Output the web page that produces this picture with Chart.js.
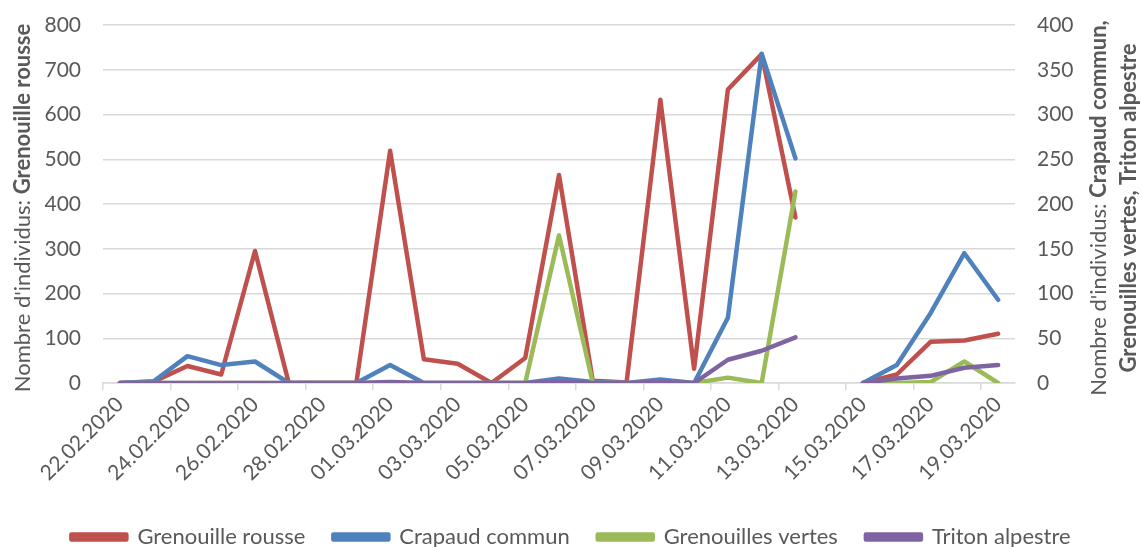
<!DOCTYPE html>
<html>
<head>
<meta charset="utf-8">
<script src="https://cdn.jsdelivr.net/npm/chart.js"></script>
<style>
  html, body { margin: 0; padding: 0; background: #fff; }
  #wrap { position: relative; width: 1142px; height: 547px; }
</style>
</head>
<body>
<div id="wrap"><canvas id="chart"></canvas></div>
<script>
// one category per day, 14.03 has no counts
const dates = [
  '22.02.2020', '23.02.2020', '24.02.2020', '25.02.2020', '26.02.2020', '27.02.2020',
  '28.02.2020', '29.02.2020', '01.03.2020', '02.03.2020', '03.03.2020', '04.03.2020',
  '05.03.2020', '06.03.2020', '07.03.2020', '08.03.2020', '09.03.2020', '10.03.2020',
  '11.03.2020', '12.03.2020', '13.03.2020', '14.03.2020', '15.03.2020', '16.03.2020',
  '17.03.2020', '18.03.2020', '19.03.2020'
];

// left axis
const grenouilleRousse = [0, 3, 38, 19, 295, 0, 0, 0, 519, 53, 43, 0, 56, 465, 5, 1, 633, 32, 656, 735, 370, null, 0, 19, 92, 95, 110];

// right axis
const crapaudCommun = [0, 2, 30, 20, 24, 0, 0, 0, 20, 0, 0, 0, 0, 5, 1, 0, 4, 0, 73, 368, 251, null, 0, 20, 78, 145, 93];
const grenouillesVertes = [0, 0, 0, 0, 0, 0, 0, 0, 0, 0, 0, 0, 0, 165, 0, 0, 0, 0, 6, 0, 214, null, 0, 0, 1, 24, 0];
const tritonAlpestre = [0, 0, 0, 0, 0, 0, 0, 0, 1, 0, 0, 0, 0, 1, 0, 0, 1, 0, 26, 36, 51, null, 0, 5, 8, 17, 20];

const leftTicks = { min: 0, max: 800, step: 100 };
const rightTicks = { min: 0, max: 400, step: 50 };

const textColor = '#595959';
const gridColor = '#d9d9d9';
const fontFamily = 'Lato, "Noto Sans", sans-serif';

function line(label, data, color, axis, order) {
  return {
    label: label,
    data: data,
    yAxisID: axis,
    borderColor: color,
    backgroundColor: color,
    borderWidth: 4.5,
    borderJoinStyle: 'round',
    borderCapStyle: 'round',
    pointRadius: 0,
    pointHoverRadius: 0,
    tension: 0,
    spanGaps: false,
    order: order
  };
}

// axis titles with a normal and a bold part
function drawRotated(ctx, parts, cx, cy, size) {
  ctx.save();
  ctx.translate(cx, cy);
  ctx.rotate(-Math.PI / 2);
  ctx.textBaseline = 'middle';
  ctx.textAlign = 'left';
  ctx.fillStyle = textColor;
  let total = 0;
  const widths = parts.map(p => {
    ctx.font = (p.bold ? 'bold ' : '') + size + 'px ' + fontFamily;
    const w = ctx.measureText(p.text).width;
    total += w;
    return w;
  });
  let x = -total / 2;
  parts.forEach((p, i) => {
    ctx.font = (p.bold ? 'bold ' : '') + size + 'px ' + fontFamily;
    ctx.fillText(p.text, x, 0);
    x += widths[i];
  });
  ctx.restore();
}

const axisTitles = {
  id: 'axisTitles',
  afterDraw(chart) {
    const ctx = chart.ctx;
    const area = chart.chartArea;
    const cy = (area.top + area.bottom) / 2 + 4;
    drawRotated(ctx, [
      { text: "Nombre d'individus: ", bold: false },
      { text: 'Grenouille rousse', bold: true }
    ], 23, cy, 22);
    drawRotated(ctx, [
      { text: "Nombre d'individus: ", bold: false },
      { text: 'Crapaud commun,', bold: true }
    ], 1099, cy, 22);
    drawRotated(ctx, [
      { text: 'Grenouilles vertes, Triton alpestre', bold: true }
    ], 1129, cy, 22);
  }
};

// vertical axes: no extra room for half tick labels, the layout padding sets the top
function fixY(width) {
  return scale => {
    scale.width = width;
    scale.paddingTop = 0;
    scale.paddingBottom = 0;
  };
}

new Chart(document.getElementById('chart').getContext('2d'), {
  type: 'line',
  data: {
    labels: dates,
    datasets: [
      line('Grenouille rousse', grenouilleRousse, '#C0504D', 'y', 4),
      line('Crapaud commun', crapaudCommun, '#4F81BD', 'y1', 3),
      line('Grenouilles vertes', grenouillesVertes, '#9BBB59', 'y1', 2),
      line('Triton alpestre', tritonAlpestre, '#8064A2', 'y1', 1)
    ]
  },
  options: {
    responsive: true,
    maintainAspectRatio: false,
    animation: false,
    layout: { padding: { top: 25, left: 0, right: 0, bottom: -11 } },
    plugins: {
      title: { display: false },
      tooltip: { enabled: false },
      legend: {
        display: true,
        position: 'bottom',
        labels: {
          boxWidth: 55,
          boxHeight: 5,
          padding: 28,
          color: textColor,
          font: { family: fontFamily, size: 22 },
          sort: (a, b) => a.datasetIndex - b.datasetIndex
        }
      }
    },
    scales: {
      x: {
        offset: true,
        afterFit: scale => { scale.height = 115; },
        grid: {
          offset: true,
          drawOnChartArea: false,
          drawTicks: true,
          tickLength: 7,
          lineWidth: 1.5,
          color: ctx => (ctx.index % 2 === 0 ? gridColor : 'rgba(0,0,0,0)')
        },
        border: { display: true, color: gridColor, width: 1.5 },
        ticks: {
          autoSkip: false,
          maxRotation: 45,
          minRotation: 45,
          padding: 2,
          color: textColor,
          font: { family: fontFamily, size: 21 },
          callback: (value, i) => (i % 2 === 0 ? dates[i] : '')
        }
      },
      y: {
        position: 'left',
        min: leftTicks.min,
        max: leftTicks.max,
        afterFit: fixY(103),
        grid: { color: gridColor, lineWidth: 1.5, drawTicks: false },
        border: { display: false },
        ticks: {
          stepSize: leftTicks.step,
          padding: 22,
          color: textColor,
          font: { family: fontFamily, size: 21 }
        }
      },
      y1: {
        position: 'right',
        min: rightTicks.min,
        max: rightTicks.max,
        afterFit: fixY(127),
        grid: { display: false, drawTicks: false },
        border: { display: false },
        ticks: {
          stepSize: rightTicks.step,
          padding: 22,
          color: textColor,
          font: { family: fontFamily, size: 21 }
        }
      }
    }
  },
  plugins: [axisTitles]
});
</script>
</body>
</html>
